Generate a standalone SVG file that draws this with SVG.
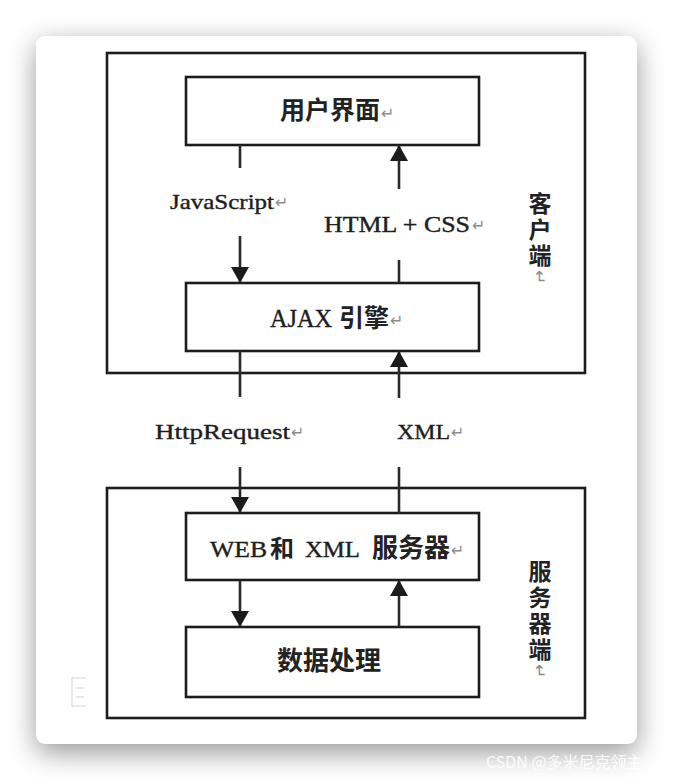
<svg xmlns="http://www.w3.org/2000/svg" width="674" height="780" viewBox="0 0 674 780">
  <defs>
    <filter id="soft" x="-20%" y="-20%" width="140%" height="140%">
      <feGaussianBlur stdDeviation="14"/>
    </filter>
    <marker id="head" viewBox="0 0 16 18" markerWidth="16" markerHeight="18" refX="16" refY="9" orient="auto" markerUnits="userSpaceOnUse">
      <path d="M0,0 L16,9 L0,18 Z" fill="#1c1c1c"/>
    </marker>
    <style>
      .frame { fill: none; stroke: #1c1c1c; stroke-width: 2.6; }
      .box { fill: #ffffff; stroke: #1c1c1c; stroke-width: 2.6; }
      .link { fill: none; stroke: #2a2a2a; stroke-width: 2.6; }
      .cjk { font-family: "Noto Sans CJK SC", "Noto Sans", sans-serif; font-weight: 700; fill: #222; }
      .lat { font-family: "Liberation Serif", "Times New Roman", serif; fill: #1e1e1e; stroke: #1e1e1e; stroke-width: 0.4; }
      .ret { font-family: "DejaVu Sans", sans-serif; font-size: 16px; fill: #8c8c8c; }
      .side { font-family: "Noto Sans CJK SC", "Noto Sans", sans-serif; font-weight: 700; font-size: 23px; fill: #222; writing-mode: vertical-rl; letter-spacing: 3px; }
      .side .mark { font-family: "DejaVu Sans", sans-serif; font-weight: 400; font-size: 17px; fill: #8c8c8c; }
    </style>
  </defs>

  <!-- page and card -->
  <rect x="0" y="0" width="674" height="780" fill="#ffffff"/>
  <rect x="36" y="44" width="601" height="709" rx="9" fill="#000" opacity="0.4" filter="url(#soft)"/>
  <rect x="36" y="36" width="601" height="708" rx="9" fill="#ffffff"/>

  <!-- client / server frames -->
  <g id="client">
    <rect class="frame" x="107" y="53" width="478" height="320"/>
    <text class="side" x="540" y="192">客户端<tspan class="mark">↵</tspan></text>
  </g>
  <g id="server">
    <rect class="frame" x="107" y="488" width="478" height="230"/>
    <text class="side" x="540" y="560">服务器端<tspan class="mark">↵</tspan></text>
    <path d="M86,678 H72 V706 H86 M76,688 H84 M76,697 H84" fill="none" stroke="#e2e2e2" stroke-width="1.5"/>
  </g>

  <!-- nodes -->
  <g id="ui">
    <rect class="box" x="186" y="77" width="293" height="68"/>
    <text class="cjk" x="280" y="119" font-size="25">用户界面</text>
    <text class="ret" x="381" y="119">↵</text>
  </g>
  <g id="ajax">
    <rect class="box" x="186" y="283" width="293" height="68"/>
    <text class="lat" x="270" y="327" font-size="25" textLength="62" lengthAdjust="spacingAndGlyphs">AJAX</text>
    <text class="cjk" x="339" y="327" font-size="25" font-weight="400">引擎</text>
    <text class="ret" x="390" y="326">↵</text>
  </g>
  <g id="web">
    <rect class="box" x="186" y="513" width="293" height="67"/>
    <text class="lat" x="210" y="557" font-size="24" textLength="57" lengthAdjust="spacingAndGlyphs">WEB</text>
    <text class="cjk" x="270" y="557" font-size="24">和</text>
    <text class="lat" x="305" y="557" font-size="24" textLength="55" lengthAdjust="spacingAndGlyphs">XML</text>
    <text class="cjk" x="372" y="557" font-size="26" font-weight="400">服务器</text>
    <text class="ret" x="451" y="556">↵</text>
  </g>
  <g id="data">
    <rect class="box" x="186" y="627" width="293" height="70"/>
    <text class="cjk" x="277" y="670" font-size="26">数据处理</text>
  </g>

  <!-- connectors -->
  <g id="connectors">
    <line class="link" x1="240" y1="145" x2="240" y2="168"/>
    <line class="link" x1="240" y1="236" x2="240" y2="283" marker-end="url(#head)"/>
    <line class="link" x1="399" y1="283" x2="399" y2="260"/>
    <line class="link" x1="399" y1="189" x2="399" y2="145" marker-end="url(#head)"/>
    <line class="link" x1="240" y1="351" x2="240" y2="397"/>
    <line class="link" x1="240" y1="467" x2="240" y2="513" marker-end="url(#head)"/>
    <line class="link" x1="399" y1="513" x2="399" y2="467"/>
    <line class="link" x1="399" y1="398" x2="399" y2="351" marker-end="url(#head)"/>
    <line class="link" x1="240" y1="580" x2="240" y2="627" marker-end="url(#head)"/>
    <line class="link" x1="399" y1="627" x2="399" y2="580" marker-end="url(#head)"/>

    <text class="lat" x="170" y="209" font-size="22" textLength="104" lengthAdjust="spacingAndGlyphs">JavaScript</text>
    <text class="ret" x="275" y="208">↵</text>
    <text class="lat" x="324" y="232" font-size="23" textLength="146" lengthAdjust="spacingAndGlyphs">HTML + CSS</text>
    <text class="ret" x="472" y="231">↵</text>
    <text class="lat" x="155" y="439" font-size="22" textLength="135" lengthAdjust="spacingAndGlyphs">HttpRequest</text>
    <text class="ret" x="291" y="438">↵</text>
    <text class="lat" x="397" y="439" font-size="22" textLength="53" lengthAdjust="spacingAndGlyphs">XML</text>
    <text class="ret" x="451" y="438">↵</text>
  </g>

  <!-- watermark -->
  <text x="486" y="768" font-family="Noto Sans CJK SC, Noto Sans, sans-serif" font-size="16" fill="#ffffff" opacity="0.85">CSDN @多米尼克领主</text>
</svg>
